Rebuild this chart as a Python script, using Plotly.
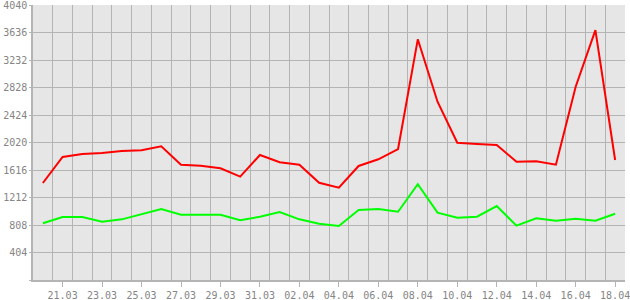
import plotly.graph_objects as go

days = list(range(30))
tick_labels = ["21.03", "23.03", "25.03", "27.03", "29.03", "31.03", "02.04", "04.04",
               "06.04", "08.04", "10.04", "12.04", "14.04", "16.04", "18.04"]
tick_positions = list(range(1, 30, 2))

red_values = [1425, 1807, 1851, 1866, 1895, 1905, 1965, 1694, 1679, 1641,
              1518, 1836, 1729, 1694, 1429, 1356, 1675, 1773, 1924, 3536,
              2619, 2017, 1998, 1983, 1738, 1745, 1694, 2840, 3672, 1763]
green_values = [833, 925, 925, 857, 891, 970, 1043, 959, 959, 959,
                877, 930, 999, 891, 827, 793, 1028, 1043, 1003, 1406,
                989, 915, 930, 1087, 798, 906, 871, 900, 871, 974]

y_ticks = [404 * k for k in range(11)]
y_labels = [""] + [str(v) for v in y_ticks[1:]]

grid = "#b4b4b4"
fig = go.Figure()
fig.add_trace(go.Scatter(x=days, y=green_values, mode="lines",
                         line=dict(color="#00ff00", width=2), hoverinfo="skip"))
fig.add_trace(go.Scatter(x=days, y=red_values, mode="lines",
                         line=dict(color="#ff0000", width=2), hoverinfo="skip"))

fig.update_layout(
    width=630, height=300,
    margin=dict(l=33, r=5, t=5, b=20, autoexpand=False),
    paper_bgcolor="white", plot_bgcolor="#e6e6e6",
    showlegend=False,
    font=dict(family="DejaVu Sans Mono", size=10, color="#858585"),
    xaxis=dict(range=[-0.5, 29.5], tickvals=tick_positions, ticktext=tick_labels,
               showgrid=False, ticks="outside", ticklen=5, tickcolor=grid,
               showline=True, linecolor=grid, linewidth=1.5, zeroline=False,
               ticklabeloverflow="allow", automargin=False,
               minor=dict(tick0=0.5, dtick=1, showgrid=True, gridcolor=grid,
                          gridwidth=1, ticks=""),
               fixedrange=True),
    yaxis=dict(range=[0, 4040], tickvals=y_ticks, ticktext=y_labels,
               showgrid=True, gridcolor=grid, gridwidth=1,
               showline=True, linecolor=grid, linewidth=1.5, zeroline=False,
               ticklabeloverflow="allow", automargin=False,
               ticks="outside", ticklen=2, tickcolor=grid,
               ticklabelstandoff=0, fixedrange=True),
)
fig.write_html("out.html")
